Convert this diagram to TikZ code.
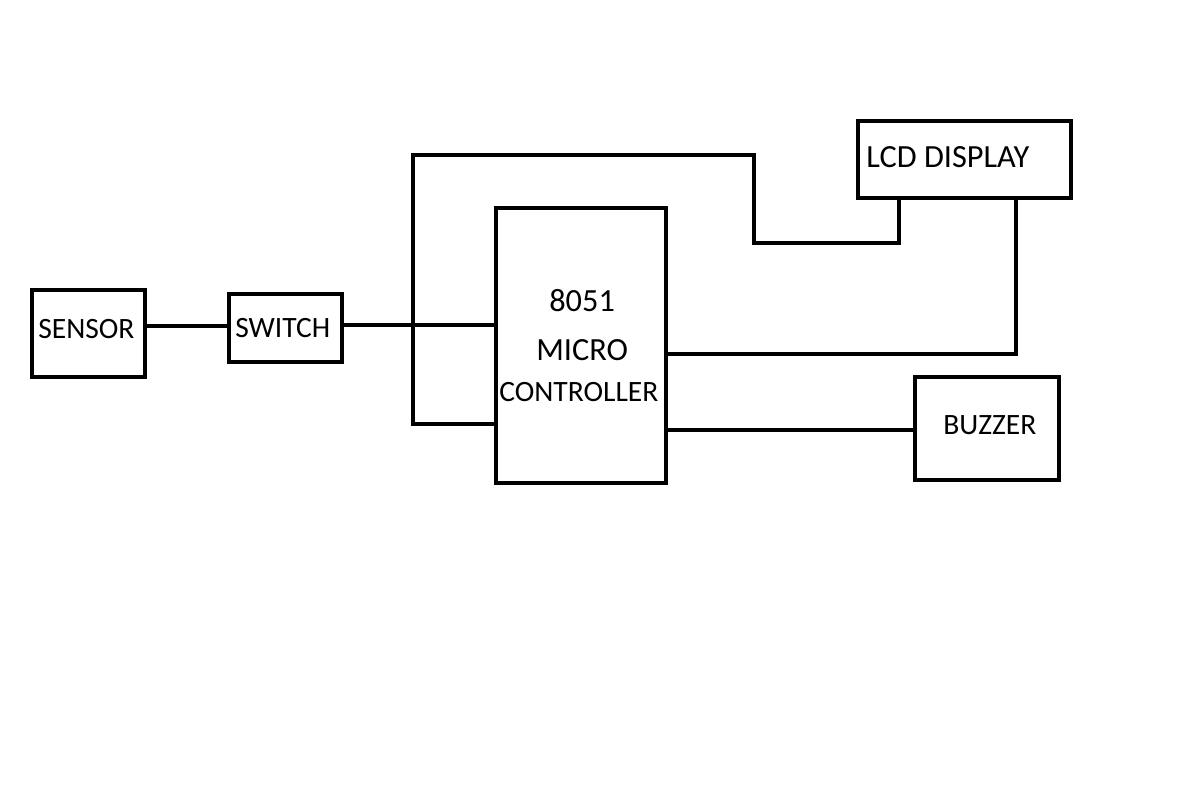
\documentclass[tikz,border=0pt]{standalone}
\usepackage{fontspec}
\setmainfont{Carlito}
\begin{document}
\begin{tikzpicture}[x=0.02cm,y=-0.02cm,
  box/.style={draw,line width=1.9pt,rectangle,inner sep=0pt},
  wire/.style={draw,line width=1.9pt},
  txt/.style={anchor=base west,inner sep=0pt,font=\fontsize{16.8pt}{18pt}\selectfont},
  bigtxt/.style={anchor=base west,inner sep=0pt,font=\fontsize{18.4pt}{20pt}\selectfont}]
\useasboundingbox (0,0) rectangle (1177,801);
\node[box,minimum width=2.26cm,minimum height=1.74cm] (sensor) at (88.5,333.5) {};
\node[box,minimum width=2.26cm,minimum height=1.36cm] (switch) at (285.5,328) {};
\node[box,minimum width=3.4cm,minimum height=5.5cm] (mc) at (581,345.5) {};
\node[box,minimum width=4.26cm,minimum height=1.54cm] (lcd) at (964.5,159.5) {};
\node[box,minimum width=2.88cm,minimum height=2.06cm] (buzzer) at (987,428.5) {};
\node[txt] (tsensor) at (38,338) {SENSOR};
\node[txt] (tswitch) at (235,337) {SWITCH};
\node[bigtxt] (t8051) at (549,311) {8051};
\node[bigtxt] (tmicro) at (536,360) {MICRO};
\node[txt] (tctrl) at (499,401) {CONTROLLER};
\node[bigtxt] (tlcd) at (866,167) {LCD DISPLAY};
\node[txt] (tbuzzer) at (943,434) {BUZZER};
\draw[wire] (sensor.east |- 0,326) -- (switch.west |- 0,326);
\draw[wire] (switch.east |- 0,325) -- (mc.west |- 0,325);
\draw[wire] (mc.west |- 0,424) -- (413,424) -- (413,155) -- (754,155) -- (754,243) -- (899,243) -- (lcd.south -| 899,0);
\draw[wire] (mc.east |- 0,354) -- (1016,354) -- (lcd.south -| 1016,0);
\draw[wire] (mc.east |- 0,430) -- (buzzer.west |- 0,430);
\end{tikzpicture}
\end{document}
